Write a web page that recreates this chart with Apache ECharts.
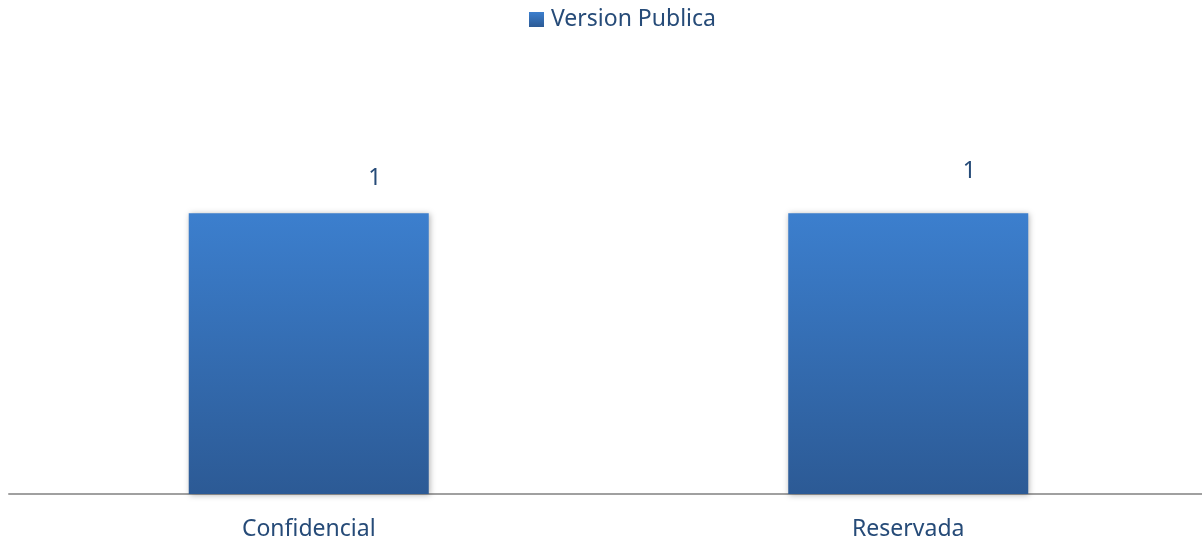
<!DOCTYPE html>
<html>
<head>
<meta charset="utf-8">
<script src="https://cdn.jsdelivr.net/npm/echarts@6/dist/echarts.min.js"></script>
<style>
html,body{margin:0;padding:0;background:#fff;}
#chart{width:1202px;height:541px;}
</style>
</head>
<body>
<div id="chart"></div>
<script>
var categories = ['Confidencial', 'Reservada'];
var seriesName = 'Version Publica';
var values = [1, 1];
var labelOffsets = [[66, -1], [61, -8]];

var textColor = '#264b78';
var fontFam = '"Noto Sans", "Open Sans", sans-serif';

var chart = echarts.init(document.getElementById('chart'));
var barColor = new echarts.graphic.LinearGradient(0, 0, 0, 1, [
  {offset: 0, color: '#3c7fce'},
  {offset: 1, color: '#2c5a95'}
]);
chart.setOption({
  animation: false,
  legend: {
    top: 8,
    left: 529,
    itemWidth: 15,
    itemHeight: 15,
    itemGap: 10,
    icon: 'rect',
    padding: 0,
    textStyle: {color: textColor, fontSize: 23, fontFamily: fontFam, padding: [0, 0, 0, 2]},
    data: [seriesName]
  },
  grid: {left: 9, width: 1199, top: 157, bottom: 47, outerBoundsMode: 'none', containLabel: false},
  xAxis: {
    type: 'category',
    data: categories,
    axisLine: {lineStyle: {color: '#a0a0a0', width: 2}},
    axisTick: {show: false},
    axisLabel: {color: textColor, fontSize: 23, fontFamily: fontFam, margin: 24}
  },
  yAxis: {
    type: 'value',
    min: 0,
    max: 1.2,
    show: false,
    splitLine: {show: false}
  },
  series: [{
    name: seriesName,
    type: 'bar',
    barWidth: 240,
    itemStyle: {
      color: barColor,
      shadowColor: 'rgba(0,0,0,0.3)',
      shadowBlur: 6,
      shadowOffsetX: 1,
      shadowOffsetY: 1
    },
    label: {show: true, position: 'top', distance: 22, color: textColor, fontSize: 23, fontFamily: fontFam},
    data: values.map(function (v, i) {
      return {value: v, label: {offset: labelOffsets[i]}};
    })
  }]
});
</script>
</body>
</html>
